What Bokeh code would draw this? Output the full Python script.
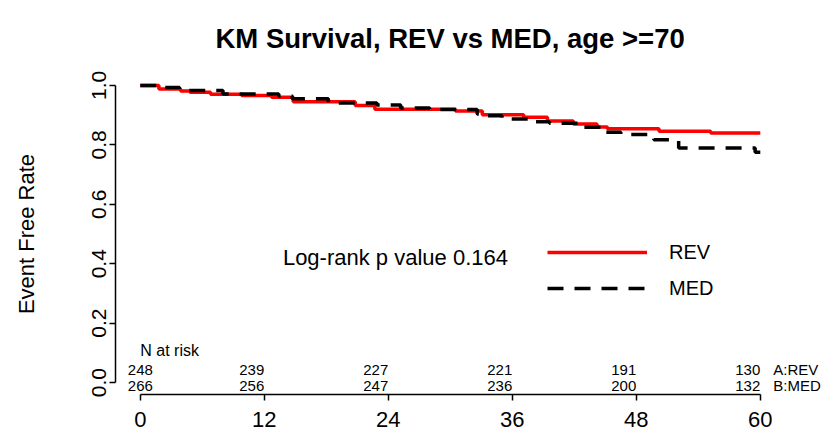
from bokeh.plotting import figure
from bokeh.models import Range1d, FixedTicker, Legend, LegendItem, Label, ColumnDataSource
from bokeh.core.properties import value
from bokeh.embed import file_html
from bokeh.resources import INLINE

# Kaplan-Meier step data (time in months, event free rate after each step)
rev_time = [0, 1.8, 3.9, 4.8, 6.8, 9.8, 12.7, 14.8, 20.8, 22.7, 30.5, 33.1, 37.1, 39.4, 41.9, 44.2, 45.2, 50.2, 55.2, 60]
rev_surv = [1.0, 0.988, 0.981, 0.977, 0.970, 0.966, 0.960, 0.945, 0.932, 0.920, 0.914, 0.901, 0.893, 0.880, 0.870, 0.860, 0.854, 0.846, 0.840, 0.840]

med_time = [0, 2.4, 3.8, 8.0, 13.4, 14.7, 18.2, 22.9, 25.2, 28.0, 32.6, 33.5, 35.0, 37.9, 39.6, 42.9, 44.7, 46.5, 49.7, 52.1, 59.5, 60]
med_surv = [1.0, 0.993, 0.983, 0.971, 0.964, 0.955, 0.941, 0.934, 0.924, 0.919, 0.904, 0.898, 0.887, 0.878, 0.873, 0.859, 0.842, 0.835, 0.817, 0.789, 0.775, 0.775]

x_ticks = [0, 12, 24, 36, 48, 60]
y_ticks = [0.0, 0.2, 0.4, 0.6, 0.8, 1.0]
y_tick_labels = ["0.0", "0.2", "0.4", "0.6", "0.8", "1.0"]

risk_times = [0, 12, 24, 36, 48, 60]
risk_rev = [248, 239, 227, 221, 191, 130]
risk_med = [266, 256, 247, 236, 200, 132]
group_labels = ["A:REV", "B:MED"]
series_names = ["REV", "MED"]
pvalue_text = "Log-rank p value 0.164"

FONT = "Liberation Sans"

# frame spans from the y axis to the right edge so the risk-table labels are not clipped;
# the x axis line itself is bounded to 0..60
W, H = 826, 437
LEFT, TOP, BOTTOM = 115, 73, 43
px_per_month = 620 / 60.0
x_start = -2.4
x_end = x_start + (W - LEFT) / px_per_month

p = figure(width=W, height=H,
           x_range=Range1d(x_start, x_end), y_range=Range1d(-0.04, 1.04),
           output_backend="svg", toolbar_location=None,
           min_border_left=LEFT, min_border_right=0,
           min_border_top=TOP, min_border_bottom=BOTTOM,
           title="KM Survival, REV vs MED, age >=70")
p.outline_line_color = None
p.grid.visible = False
p.background_fill_color = "white"
p.border_fill_color = "white"

p.title.align = "left"
p.title.offset = 100
p.title.vertical_align = "bottom"
p.title.text_font = FONT
p.title.text_font_size = "27.5px"
p.title.text_font_style = "bold"
p.title.text_color = "black"
p.title.standoff = 40

# axes
xa = p.xaxis[0]
xa.ticker = FixedTicker(ticks=x_ticks)
xa.bounds = (0, 60)
xa.major_tick_out = 6
xa.major_tick_in = 0
xa.minor_tick_out = 0
xa.minor_tick_in = 0
xa.axis_line_width = 1.5
xa.major_tick_line_width = 1.5
xa.major_label_text_font = FONT
xa.major_label_text_font_size = "22px"
xa.major_label_text_color = "black"
xa.major_label_standoff = 11

ya = p.yaxis[0]
ya.ticker = FixedTicker(ticks=y_ticks)
ya.bounds = (0, 1)
ya.major_label_overrides = {t: l for t, l in zip(y_ticks, y_tick_labels)}
ya.major_tick_out = 6
ya.major_tick_in = 0
ya.minor_tick_out = 0
ya.minor_tick_in = 0
ya.axis_line_width = 1.5
ya.major_tick_line_width = 1.5
ya.major_label_orientation = "vertical"
ya.major_label_text_font = FONT
ya.major_label_text_font_size = "21px"
ya.major_label_text_color = "black"
ya.major_label_standoff = 3
ya.axis_label = "Event Free Rate"
ya.axis_label_text_font = FONT
ya.axis_label_text_font_size = "22px"
ya.axis_label_text_font_style = "normal"
ya.axis_label_text_color = "black"
ya.axis_label_standoff = 51

# curves
r_rev = p.step(rev_time, rev_surv, mode="after", line_color="red", line_width=3.5)
r_med = p.step(med_time, med_surv, mode="after", line_color="black", line_width=3.5, line_dash="16 11")

legend = Legend(items=[LegendItem(label=series_names[0], renderers=[r_rev]),
                       LegendItem(label=series_names[1], renderers=[r_med])],
                location=(432, 89), orientation="vertical",
                glyph_width=100, glyph_height=34, label_standoff=22, spacing=2,
                padding=0, margin=0, border_line_alpha=0, background_fill_alpha=0,
                label_text_font=FONT, label_text_font_size="20px", label_text_color="black")
p.add_layout(legend)

p.add_layout(Label(x=13.8, y=0.42, text=pvalue_text, text_font=FONT, text_font_size="22px",
                   text_baseline="middle", text_align="left", text_color="black"))

# number at risk
p.add_layout(Label(x=risk_times[0], y=0.108, text="N at risk", text_font=FONT, text_font_size="16px",
                   text_baseline="middle", text_align="left", text_color="black"))

row_a_y = 0.044
row_b_y = -0.010
first = ColumnDataSource(dict(x=risk_times[:1], a=[str(v) for v in risk_rev[:1]], b=[str(v) for v in risk_med[:1]],
                              ya=[row_a_y], yb=[row_b_y]))
rest = ColumnDataSource(dict(x=risk_times[1:], a=[str(v) for v in risk_rev[1:]], b=[str(v) for v in risk_med[1:]],
                             ya=[row_a_y] * (len(risk_times) - 1), yb=[row_b_y] * (len(risk_times) - 1)))
for src, al in ((first, "center"), (rest, "right")):
    p.text(x="x", y="ya", text="a", source=src, text_align=al, text_baseline="middle",
           text_font=value(FONT), text_font_size="15px", text_color="black")
    p.text(x="x", y="yb", text="b", source=src, text_align=al, text_baseline="middle",
           text_font=value(FONT), text_font_size="15px", text_color="black")

for lbl, yy in zip(group_labels, (row_a_y, row_b_y)):
    p.add_layout(Label(x=risk_times[-1], y=yy, x_offset=13, text=lbl, text_font=FONT, text_font_size="15px",
                       text_baseline="middle", text_align="left", text_color="black"))

open("out.html", "w").write(file_html(p, INLINE))
